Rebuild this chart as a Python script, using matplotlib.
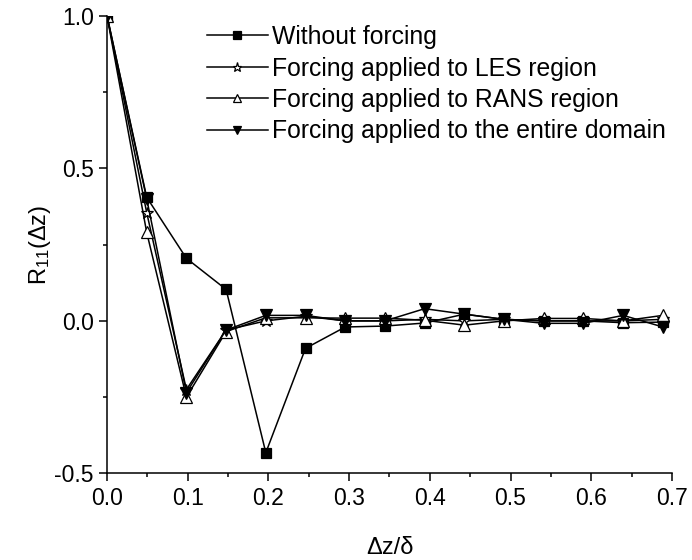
import numpy as np
import matplotlib
matplotlib.use("Agg")
import matplotlib.pyplot as plt
from matplotlib.ticker import MultipleLocator

plt.rcParams['font.family'] = ['Liberation Sans', 'DejaVu Sans']
plt.rcParams['mathtext.default'] = 'regular'

# separacao normalizada dz/delta
dz = np.arange(15) * 0.0492

sem_forcamento = [1.0, 0.405, 0.205, 0.103, -0.432, -0.09, -0.02, -0.017,
                  -0.007, 0.022, 0.005, 0.0, 0.0, -0.006, -0.004]
forc_les = [1.0, 0.355, -0.225, -0.03, 0.0, 0.015, 0.0, 0.0,
            0.005, 0.0, 0.005, 0.0, 0.0, 0.0, 0.005]
forc_rans = [1.0, 0.29, -0.25, -0.035, 0.01, 0.01, 0.009, 0.009,
             0.002, -0.014, 0.0, 0.008, 0.008, 0.0, 0.018]
forc_total = [1.0, 0.40, -0.235, -0.03, 0.018, 0.018, 0.0, 0.0,
              0.04, 0.022, 0.005, -0.008, -0.008, 0.018, -0.02]

rotulos = ['Without forcing', 'Forcing applied to LES region',
           'Forcing applied to RANS region',
           'Forcing applied to the entire domain']

fig = plt.figure(figsize=(6.92, 5.6), dpi=100)
ax = fig.add_axes([0.1546, 0.1545, 0.8164, 0.8175])

estilo = dict(color='black', linewidth=1.1, markeredgecolor='black',
              markeredgewidth=0.9)
ax.plot(dz, sem_forcamento, marker='s', markersize=7.5,
        markerfacecolor='black', label=rotulos[0], **estilo)
ax.plot(dz, forc_les, marker='*', markersize=9,
        markerfacecolor='white', label=rotulos[1], **estilo)
ax.plot(dz, forc_rans, marker='^', markersize=8.5,
        markerfacecolor='white', label=rotulos[2], **estilo)
ax.plot(dz, forc_total, marker='v', markersize=8.5,
        markerfacecolor='black', label=rotulos[3], **estilo)

ax.set_xlim(0, 0.7)
ax.set_ylim(-0.5, 1.0)
ax.xaxis.set_major_locator(MultipleLocator(0.1))
ax.xaxis.set_minor_locator(MultipleLocator(0.05))
ax.yaxis.set_major_locator(MultipleLocator(0.5))
ax.yaxis.set_minor_locator(MultipleLocator(0.25))
ax.xaxis.set_major_formatter(plt.FuncFormatter(lambda v, p: f'{v:.1f}'))
ax.yaxis.set_major_formatter(plt.FuncFormatter(lambda v, p: f'{v:.1f}'))

ax.spines['top'].set_visible(False)
ax.spines['right'].set_visible(False)
for s in ('left', 'bottom'):
    ax.spines[s].set_linewidth(1.1)
ax.tick_params(which='major', direction='out', length=6, width=1.1,
               labelsize=16.5)
ax.tick_params(which='minor', direction='out', length=3, width=1.1)

ax.set_xlabel('Δz/δ', fontsize=17, labelpad=20)
ax.set_ylabel('R$_{11}$(Δz)', fontsize=17, labelpad=1)

ax.legend(loc='upper left', bbox_to_anchor=(0.2735, 0.986),
          bbox_transform=fig.transFigure, frameon=False, fontsize=17.8,
          handlelength=2.5, handletextpad=0.15, labelspacing=0.3,
          borderaxespad=0.3, markerscale=0.75)

fig.savefig('out.png', dpi=100)
